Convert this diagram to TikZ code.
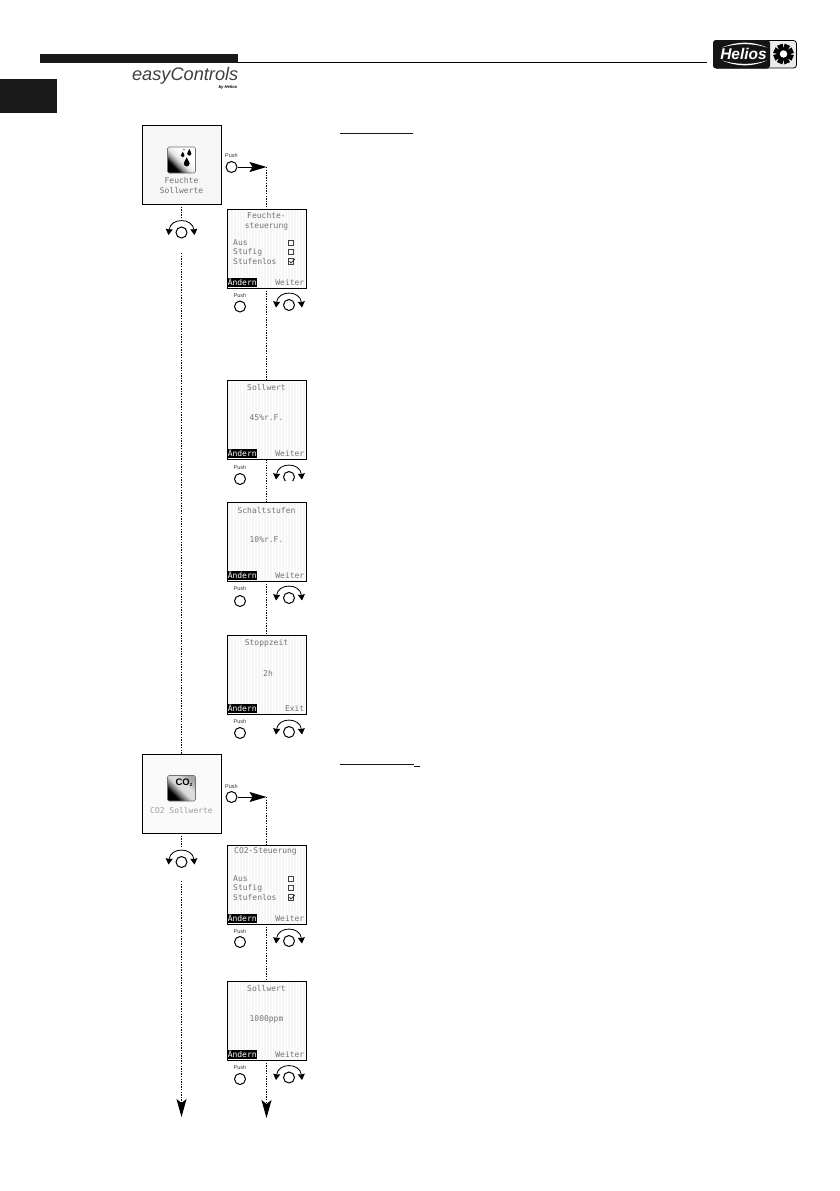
\documentclass[tikz,border=0pt]{standalone}
\usepackage{fontspec}
\setmainfont{Liberation Sans}
\newfontfamily\lcd{DejaVu Sans Mono}[Scale=1]
\usetikzlibrary{arrows.meta,positioning}
\definecolor{lcdtext}{gray}{0.45}
\definecolor{lcdback}{gray}{0.965}
\pgfdeclareverticalshading{icongrad}{100bp}{color(0bp)=(black); color(31bp)=(black); color(39bp)=(black!45); color(47bp)=(black!10); color(60bp)=(white); color(100bp)=(white)}
\pgfdeclareverticalshading{icongradb}{100bp}{color(0bp)=(black); color(31bp)=(black); color(39bp)=(black!55); color(48bp)=(black!15); color(60bp)=(black!12); color(75bp)=(black!35); color(100bp)=(black!35)}
\tikzset{
  x=1pt,y=-1pt,
  screen/.style={draw=black,line width=1pt,fill=lcdback,minimum width=79pt,minimum height=79pt,inner sep=0pt,outer sep=0pt},
  stripes/.style={path picture={\foreach \k in {0,3,...,78}{\draw[white,line width=0.9pt] ([xshift=\k pt]path picture bounding box.south west) -- ([xshift=\k pt]path picture bounding box.north west);}}},
  flow/.style={line width=1pt,dash pattern=on 1.3pt off 1.3pt,black},
  flowend/.style={flow,-{Stealth[length=18pt,width=10pt,inset=4pt,sep=0pt]}},
  pushline/.style={line width=0.8pt,-{Stealth[length=17pt,width=10pt,inset=3pt]}},
  knob/.style={circle,draw=black,line width=1pt,minimum size=11pt,inner sep=0pt,fill=white},
  pushlbl/.style={font=\fontsize{5.5}{6}\selectfont,inner sep=0pt,text=black!80},
  lcdt/.style={font=\lcd\fontsize{8}{10}\selectfont,text=lcdtext,inner sep=0pt,align=center},
  softkey/.style={font=\lcd\fontsize{8}{10}\selectfont,text=white,fill=black,inner sep=0pt,minimum width=29pt,minimum height=9pt,text height=6pt,text depth=0pt},
  softkeyr/.style={font=\lcd\fontsize{8}{10}\selectfont,text=lcdtext,inner sep=0pt,anchor=east},
  cbox/.style={draw=black!75,line width=0.6pt,minimum size=5.5pt,inner sep=0pt},
  rule/.style={line width=1pt,black!90},
}
% \smallscreen{name}{top y}{right key}
\newcommand{\smallscreen}[3]{%
  \node[screen,stripes,anchor=north] (#1) at (266.5,#2) {};
  \node[softkey,anchor=south west] (#1key) at ([shift={(0.5,-1)}]#1.south west) {Ändern};
  \node[softkeyr] (#1right) at ([shift={(-1.5,-5.5)}]#1.south east) {#3};
}
% \rotary{name}{x}{y}
\newcommand{\rotary}[3]{%
  \node[knob] (#1) at (#2,#3) {};
  \draw[line width=0.8pt,{Stealth[length=6pt,width=7pt,inset=0.5pt]}-{Stealth[length=6pt,width=7pt,inset=0.5pt]}]
    ([shift={(-13,2.5)}]#1.center) .. controls ([shift={(-11,-15)}]#1.center) and ([shift={(11,-15)}]#1.center) .. ([shift={(13,2.5)}]#1.center);
}
% \pushbtn{name}{x}{y}{label y}
\newcommand{\pushbtn}[4]{%
  \node[knob] (#1) at (#2,#3) {};
  \node[pushlbl] (#1lbl) at (#2,#4) {Push};
}
% \options{name}{top y of first line}
\newcommand{\options}[2]{%
  \node[lcdt,anchor=west] (#1a) at (233,#2) {Aus};
  \node[lcdt,anchor=west] (#1b) at (233,#2+9) {Stufig};
  \node[lcdt,anchor=west] (#1c) at (233,#2+18) {Stufenlos};
  \node[cbox] (#1ba) at (291,#2) {};
  \node[cbox] (#1bb) at (291,#2+9) {};
  \node[cbox] (#1bc) at (291,#2+18.5) {};
  \draw[line width=0.7pt,black!85] ([shift={(-1.5,-0.5)}]#1bc.center) -- ([shift={(-0.2,1.5)}]#1bc.center) -- ([shift={(4,-2.5)}]#1bc.center);
}
\begin{document}
\begin{tikzpicture}
\useasboundingbox (0,0) rectangle (839,1191);
\fill[white] (0,0) rectangle (839,1191);
% header
\fill[black!90] (40,54) rectangle (238,63);
\draw[line width=0.9pt,black] (238,62.5) -- (707,62.5);
\fill[black!90] (0,79) rectangle (57,113);
\node[inner sep=0pt,anchor=base east] (easy) at (238.5,80.5) {\fontsize{18.2}{20}\selectfont\itshape\color{black!75}easyControls};
\node[inner sep=0pt,anchor=base east] (byh) at (237.5,88.5) {\fontsize{4.2}{5}\selectfont\bfseries\itshape by Helios};
% Helios logo
\draw[rounded corners=3pt,fill=black!8,draw=black,line width=0.8pt] (713.5,40.5) rectangle (796.5,68);
\fill[rounded corners=3pt,black!92] (713,40) rectangle (770,68.5);
\node[inner sep=0pt,text=white] (hel) at (743.5,54) {\fontsize{15.5}{16}\selectfont\bfseries\itshape Helios};
\fill[white] (722,47.5) .. controls (738,41) and (752,41) .. (767,47.5) .. controls (752,43) and (738,43) .. (722,47.5) -- cycle;
\fill[white] (722,60.5) .. controls (738,67) and (752,67) .. (767,60.5) .. controls (752,65) and (738,65) .. (722,60.5) -- cycle;
\node[circle,fill=black,minimum size=13pt,inner sep=0pt] (gear) at (783.5,54) {};
\foreach \a in {0,45,...,315}{\fill[black,rotate around={\a+22:(gear.center)}] (782,54) -- (785,54) -- (786.5,44) -- (780.5,44) -- cycle;}
\node[circle,fill=white,minimum size=7.5pt,inner sep=0pt] at (gear.center) {};
% section rules
\draw[rule] (340,133.5) -- (413,133.5);
\draw[rule] (340,764.5) -- (414,764.5);
\draw[rule] (414,766.5) -- (420,766.5);

% big screens
\node[screen,anchor=north] (big1) at (181.5,125) {};
\node[screen,anchor=north,fill=black!2] (big2) at (181.5,754) {};
% small screens
\smallscreen{s1}{209}{Weiter}
\smallscreen{s2}{380.5}{Weiter}
\smallscreen{s3}{502}{Weiter}
\smallscreen{s4}{635}{Exit}
\smallscreen{s5}{845}{Weiter}
\smallscreen{s6}{981}{Weiter}
% icon 1
\shade[shading=icongrad,shading angle=-45,rounded corners=1.5pt] (167.5,147) rectangle (195.5,173);
\draw[rounded corners=1.5pt,draw=black!55,line width=0.6pt] (167.5,147) rectangle (195.5,173);
\foreach \px/\py/\ps in {189.3/153.5/0.75,182.7/155.5/0.65,186.7/163.5/1.05}{
  \fill[black] (\px,\py-6*\ps) .. controls (\px+0.8*\ps,\py-3*\ps) and (\px+2.8*\ps,\py-2*\ps) .. (\px+2.8*\ps,\py) arc[start angle=0,end angle=180,radius=2.8*\ps] .. controls (\px-2.8*\ps,\py-2*\ps) and (\px-0.8*\ps,\py-3*\ps) .. cycle;
}
\fill[black] (184,149.5) circle (0.7);
\node[lcdt,anchor=center] (t1) at (181.5,185.5) {\fontsize{8}{9.5}\selectfont Feuchte\\\fontsize{8}{9.5}\selectfont Sollwerte};
% icon 2
\shade[shading=icongradb,shading angle=-45,rounded corners=1.5pt] (167.5,775.5) rectangle (195.5,801);
\draw[rounded corners=1.5pt,draw=black!55,line width=0.6pt] (167.5,775.5) rectangle (195.5,801);
\node[inner sep=0pt] (co2) at (184,782.5) {\fontsize{9.5}{10}\selectfont\bfseries CO\raisebox{-1pt}{\fontsize{4.5}{5}\selectfont 2}};
\node[lcdt,text=black!38] (t2) at (181.5,810.5) {CO2 Sollwerte};
% screen texts
\node[lcdt,anchor=north] at (266.5,212) {Feuchte-\\steuerung};
\options{o1}{243}
\node[lcdt] at (266.5,387.5) {Sollwert};
\node[lcdt] at (266.5,417.5) {45\%r.F.};
\node[lcdt] at (266.5,510) {Schaltstufen};
\node[lcdt] at (266.5,540) {10\%r.F.};
\node[lcdt] at (266.5,643) {Stoppzeit};
\node[lcdt] at (268,673) {2h};
\node[lcdt] at (265.5,851.5) {CO2-Steuerung};
\options{o2}{879}
\node[lcdt] at (266.5,988) {Sollwert};
\node[lcdt] at (266.5,1019) {1000ppm};
% controls
\pushbtn{p0}{231.5}{167}{156}
\pushbtn{p1}{240}{306.5}{296}
\pushbtn{p2}{240}{479}{468}
\pushbtn{p3}{240}{601}{589}
\pushbtn{p4}{240}{733}{722}
\pushbtn{p5}{231.5}{797}{786.5}
\pushbtn{p6}{240}{942}{931.5}
\pushbtn{p7}{240}{1079}{1068}
\rotary{r0}{181.5}{232.5}
\rotary{r1}{289}{305}
\rotary{r2}{289}{477}
\rotary{r3}{289}{598}
\rotary{r4}{289}{732}
\rotary{r5}{181.5}{862}
\rotary{r6}{289}{941}
\rotary{r7}{289}{1077.5}
\fill[white] (285,480.8) rectangle (293,483.5);
% connectors
\coordinate (c0) at (266.5,167);
\coordinate (c5) at (266.5,797);
\coordinate (l1a) at (181.5,218);
\coordinate (l1b) at (181.5,253);
\coordinate (l2a) at (181.5,847);
\coordinate (l2b) at (181.5,881);
\coordinate (endl) at (181.5,1117);
\coordinate (endr) at (266.5,1118);
\draw[pushline] (p0) -- (c0);
\draw[pushline] (p5) -- (c5);
\draw[flow] (c0) -- (s1.north);
\draw[flow] (c5) -- (s5.north);
\draw[flow] (s1.south) -- (s2.north);
\draw[flow] (s2.south) -- (s3.north);
\draw[flow] (s3.south) -- (s4.north);
\draw[flow] (s5.south) -- (s6.north);
\draw[flowend] (s6.south) -- (endr);
\draw[flow] (big1.south) -- (l1a);
\draw[flow] (l1b) -- (big2.north);
\draw[flow] (big2.south) -- (l2a);
\draw[flowend] (l2b) -- (endl);
\end{tikzpicture}
\end{document}
